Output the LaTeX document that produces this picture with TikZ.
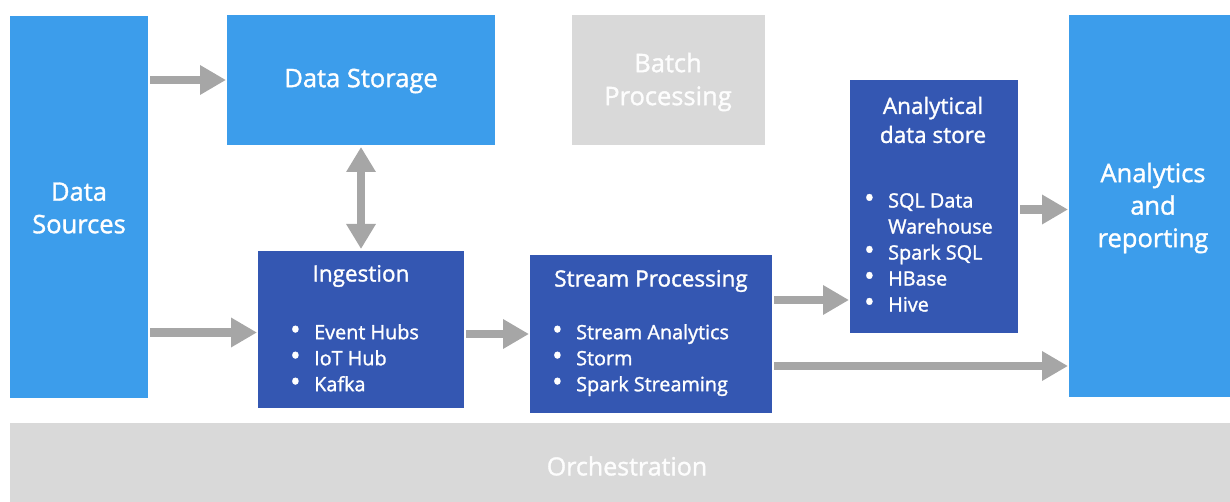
\documentclass[tikz,border=0pt]{standalone}
\usepackage{fontspec}
\setmainfont{Open Sans}[FakeBold=1.4]
\usetikzlibrary{arrows.meta,fit}
\definecolor{lblue}{HTML}{3C9DEB}
\definecolor{dblue}{HTML}{3457B2}
\definecolor{lgray}{HTML}{D9D9D9}
\definecolor{agray}{HTML}{A6A6A6}
\newcommand{\bitem}[1]{\makebox[25pt][l]{\hspace*{1pt}\scalebox{1.4}{\textbullet}}#1}
\tikzset{
  boxbase/.style={inner sep=0pt, outer sep=0pt, draw=none},
  lbox/.style={boxbase, fill=lblue},
  dbox/.style={boxbase, fill=dblue},
  gbox/.style={boxbase, fill=lgray},
  bigtxt/.style={text=white, font=\fontsize{25.5}{32.5}\selectfont, align=center, inner sep=0pt},
  grtxt/.style={text=white!95!lgray, font=\fontsize{25.5}{33}\selectfont, align=center, inner sep=0pt},
  ttl/.style={text=white, font=\fontsize{22.5}{29}\selectfont, align=center, inner sep=0pt},
  lst/.style={text=white, font=\fontsize{19.8}{26}\selectfont, align=left, inner sep=0pt, anchor=north west},
  arr/.style={draw=agray, line width=8.5pt, -{Triangle[length=26pt,width=28pt]}, shorten <=2pt, shorten >=1pt},
  darr/.style={draw=agray, line width=8.5pt, {Triangle[length=25pt,width=28pt]}-{Triangle[length=25pt,width=28pt]}, shorten <=2pt, shorten >=2pt},
}
\begin{document}
\begin{tikzpicture}[x=1pt,y=-1pt]
\useasboundingbox (0,0) rectangle (1230,502);
% boxes
\node[lbox, fit={(10,16) (148,398)}] (src) {};
\node[lbox, fit={(227,15) (495,145)}] (store) {};
\node[gbox, fit={(572,15) (765,145)}] (batch) {};
\node[dbox, fit={(258,251) (464,408)}] (ing) {};
\node[dbox, fit={(530,255) (772,413)}] (strm) {};
\node[dbox, fit={(850,80) (1018,333)}] (anal) {};
\node[lbox, fit={(1069,15) (1230,397)}] (rep) {};
\node[gbox, fit={(10,423) (1230,502)}] (orch) {};
% texts
\node[bigtxt] (srcT) at (79,208) {Data\\Sources};
\node[bigtxt] (storeT) at (361,81) {Data Storage};
\node[grtxt] (batchT) at (668,82) {Batch\\Processing};
\node[ttl] (ingT) at (361,276) {Ingestion};
\node[lst] (ingL) at (289,324) {\bitem{Event Hubs}\\\bitem{IoT Hub}\\\bitem{Kafka}};
\node[lst] (strmL) at (551,324) {\bitem{Stream Analytics}\\\bitem{Storm}\\\bitem{Spark Streaming}};
\node[ttl] (strmT) at (651,281) {Stream Processing};
\node[ttl] (analT) at (933,120) {Analytical\\data store};
\node[lst] (analL) at (863,193) {\bitem{SQL Data}\\\hspace*{25pt}Warehouse\\\bitem{Spark SQL}\\\bitem{HBase}\\\bitem{Hive}};
\node[bigtxt] (repT) at (1153,208) {Analytics\\and\\reporting};
\node[grtxt, font=\fontsize{25}{26}\selectfont] (orchT) at (627,466) {Orchestration};
% connectors
\coordinate (c1) at ([yshift=0pt]store.west);
\draw[arr] (src.east |- c1) -- (c1);
\coordinate (c2) at ([yshift=-3pt]ing.west);
\draw[arr] (src.east |- c2) -- (c2);
\draw[darr] (store.south -| ingT) -- (ing.north -| ingT);
\draw[arr] (ing.east |- strm.west) -- (strm.west);
\coordinate (c3) at ([yshift=34pt]strm.east);
\draw[arr] (c3) -- (c3 -| anal.west);
\coordinate (c4) at ([yshift=-32pt]strm.east);
\draw[arr] (c4) -- (c4 -| rep.west);
\coordinate (c5) at ([yshift=-3pt]anal.east);
\draw[arr] (c5) -- (c5 -| rep.west);
\end{tikzpicture}
\end{document}
